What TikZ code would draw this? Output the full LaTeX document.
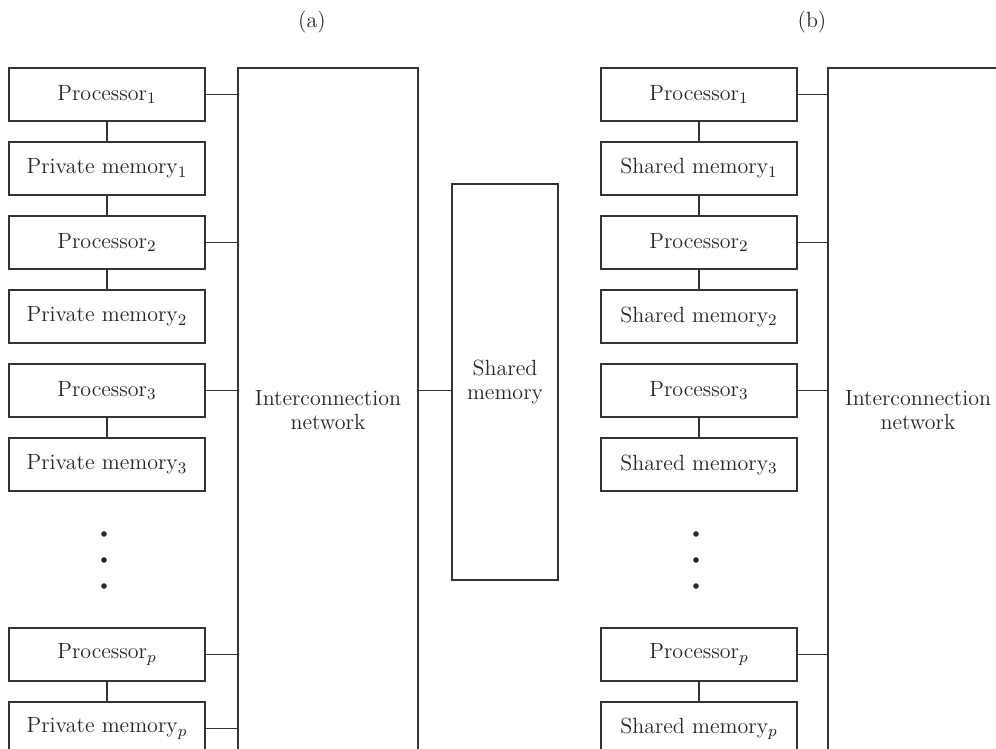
\documentclass[tikz,border=0pt]{standalone}
\usetikzlibrary{positioning}

\begin{document}
\begin{tikzpicture}[x=.5pt,y=-.5pt,font=\fontsize{11}{12}\selectfont,
  line width=.9pt,draw=black!80,text=black!85,
  unit/.style={draw,minimum width=98pt,minimum height=26.5pt,inner sep=0pt},
  net/.style={draw,minimum width=90pt,minimum height=342pt,align=center},
  wire/.style={draw=black!80}]
\useasboundingbox (0,0) rectangle (996,749);
\clip (0,0) rectangle (996,749);
% one column of processors, each with a memory below it
\def\column#1#2#3{% prefix, centre x, memory word
  \foreach \i/\y in {1/94.5,2/242.5,3/390.5,p/654.5} {
    \node[unit] (#1p\i) at (#2,\y) {Processor$_{\i}$};
    \node[unit] (#1m\i) at (#2,\y+74) {#3 memory$_{\i}$};
    \draw[wire] (#1p\i) -- (#1m\i);
    \draw[wire] (#1p\i.east) -- (#1p\i.east -| net#1.west);
  }
  \draw[wire] (#1m1) -- (#1p2);
  \foreach \y in {534,560,586} \fill[black!85] (#2-3,\y) circle (1.4pt);}
% (a) processors with private memories and one shared memory
\node (capa) at (312,22) {(a)};
\node[net] (neta) at (328,410) {Interconnection\\network};
\node[unit,minimum width=53pt,minimum height=198pt,align=center] (shm) at (505,382) {Shared\\memory};
\column{a}{107}{Private}
\draw[wire] (amp.east) -- (amp.east -| neta.west);
\draw[wire] (neta.east |- ap3.east) -- (shm.west |- ap3.east);
% (b) processors with distributed shared memories
\node (capb) at (812,22) {(b)};
\node[net] (netb) at (918,410) {Interconnection\\network};
\column{b}{699}{Shared}
\end{tikzpicture}
\end{document}
